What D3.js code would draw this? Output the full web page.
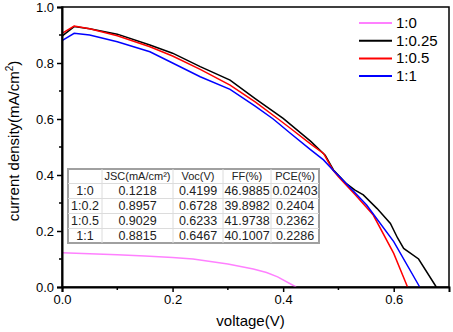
<!DOCTYPE html>
<html lang="en">

<head>
    <meta charset="UTF-8">
    <title>J-V curves</title>
    <style>
        body { margin: 0; background: white; }
        svg { display: block; font-family: Arial, "Liberation Sans", sans-serif; }
    </style>
</head>

<body>
    <script src="https://d3js.org/d3.v7.min.js"></script>
    <script>
        // series: [voltage, current density]
        const names = ["1:0", "1:0.25", "1:0.5", "1:1"];
        const colors = ["#ff80ff", "#000000", "#ff0000", "#0000ff"];

        const s10 = [[0, 0.122], [0.05, 0.119], [0.1, 0.115], [0.15, 0.111], [0.2, 0.105], [0.237, 0.1],
            [0.3, 0.082], [0.346, 0.064], [0.37, 0.052], [0.39, 0.036], [0.4235, 0]];
        const s1025 = [[0, 0.896], [0.022, 0.93], [0.05, 0.922], [0.1, 0.903], [0.159, 0.864], [0.2, 0.835],
            [0.25, 0.787], [0.304, 0.739], [0.35, 0.672], [0.4, 0.602], [0.45, 0.52], [0.476, 0.471],
            [0.491, 0.418], [0.515, 0.368], [0.53, 0.346], [0.545, 0.329], [0.57, 0.28], [0.594, 0.227],
            [0.607, 0.175], [0.618, 0.138], [0.645, 0.1], [0.677, 0]];
        const s105 = [[0, 0.906], [0.022, 0.932], [0.05, 0.922], [0.1, 0.897], [0.159, 0.858], [0.2, 0.825],
            [0.25, 0.777], [0.304, 0.721], [0.35, 0.66], [0.391, 0.6], [0.413, 0.567], [0.45, 0.51],
            [0.473, 0.477], [0.49, 0.418], [0.5, 0.394], [0.53, 0.33], [0.563, 0.257], [0.6, 0.12], [0.625, 0]];
        const s11 = [[0, 0.88], [0.022, 0.906], [0.05, 0.9], [0.1, 0.876], [0.159, 0.84], [0.2, 0.8],
            [0.25, 0.751], [0.304, 0.706], [0.35, 0.645], [0.382, 0.6], [0.413, 0.549], [0.45, 0.49],
            [0.473, 0.454], [0.49, 0.418], [0.5, 0.398], [0.551, 0.293], [0.6, 0.162], [0.647, 0]];
        const series = [s10, s1025, s105, s11];

        // summary table
        const tableHead = ["", "JSC(mA/cm\u00b2)", "Voc(V)", "FF(%)", "PCE(%)"];
        const tableRows = [
            ["1:0", "0.1218", "0.4199", "46.9885", "0.02403"],
            ["1:0.2", "0.8957", "0.6728", "39.8982", "0.2404"],
            ["1:0.5", "0.9029", "0.6233", "41.9738", "0.2362"],
            ["1:1", "0.8815", "0.6467", "40.1007", "0.2286"]
        ];

        const xTicks = [0, 0.2, 0.4, 0.6];
        const yTicks = [0, 0.2, 0.4, 0.6, 0.8, 1.0];

        const width = 453, height = 332;
        const margin = { left: 62, right: 4, top: 7, bottom: 45 };

        const svg = d3.select("body").append("svg")
            .attr("width", width)
            .attr("height", height);

        const x = d3.scaleLinear().domain([0, 0.7]).range([margin.left, width - margin.right]);
        const y = d3.scaleLinear().domain([0, 1]).range([height - margin.bottom, margin.top]);

        // frame
        svg.append("rect")
            .attr("x", x(0)).attr("y", y(1))
            .attr("width", x(0.7) - x(0)).attr("height", y(0) - y(1))
            .attr("fill", "none").attr("stroke", "#000").attr("stroke-width", 1.5);

        // curves
        const line = d3.line().x(d => x(d[0])).y(d => y(d[1]));
        svg.selectAll(".curve")
            .data(series)
            .enter().append("path")
            .attr("class", "curve")
            .attr("d", line)
            .attr("fill", "none")
            .attr("stroke", (d, i) => colors[i])
            .attr("stroke-width", 1.5);

        // axes
        const xAxis = d3.axisBottom(x).tickValues(xTicks).tickFormat(d3.format(".1f")).tickSize(5).tickPadding(3);
        const yAxis = d3.axisLeft(y).tickValues(yTicks).tickFormat(d3.format(".1f")).tickSize(5).tickPadding(3);

        const gx = svg.append("g").attr("transform", `translate(0,${y(0)})`).call(xAxis);
        const gy = svg.append("g").attr("transform", `translate(${x(0)},0)`).call(yAxis);
        [gx, gy].forEach(g => {
            g.select(".domain").attr("stroke-width", 2);
            g.selectAll(".tick line").attr("stroke-width", 1.5);
            g.selectAll("text").attr("font-size", 13).attr("font-family", "Arial, 'Liberation Sans', sans-serif");
        });
        // minor ticks
        gx.selectAll(".minor").data(d3.range(0.1, 0.7, 0.2)).enter().append("line")
            .attr("x1", d => x(d)).attr("x2", d => x(d)).attr("y1", 0).attr("y2", 3)
            .attr("stroke", "#000").attr("stroke-width", 1.5);
        gy.selectAll(".minor").data(d3.range(0.1, 1, 0.2)).enter().append("line")
            .attr("y1", d => y(d)).attr("y2", d => y(d)).attr("x1", 0).attr("x2", -3)
            .attr("stroke", "#000").attr("stroke-width", 1.5);

        // axis titles
        svg.append("text")
            .attr("x", (x(0) + x(0.7)) / 2 - 5).attr("y", 326)
            .attr("text-anchor", "middle").attr("font-size", 15)
            .text("voltage(V)");
        const yl = svg.append("text")
            .attr("transform", `translate(19,141) rotate(-90)`)
            .attr("text-anchor", "middle").attr("font-size", 15);
        yl.append("tspan").text("current density(mA/cm");
        yl.append("tspan").attr("font-size", 10).attr("dy", -6).text("2");
        yl.append("tspan").attr("dy", 6).text(")");

        // legend
        const legend = svg.append("g").attr("transform", "translate(359,23)");
        names.forEach((n, i) => {
            const g = legend.append("g").attr("transform", `translate(0,${i * 17.7})`);
            g.append("line").attr("x1", 0).attr("x2", 33).attr("y1", 0).attr("y2", 0)
                .attr("stroke", colors[i]).attr("stroke-width", 2);
            g.append("text").attr("x", 37).attr("y", 5).attr("font-size", 15).text(n);
        });

        // table
        const colEdges = [68, 102, 173, 223, 271, 319];
        const rowEdges = [169, 183.5, 198.5, 213.5, 228.5, 243];
        const tbl = svg.append("g");
        tbl.append("rect")
            .attr("x", colEdges[0]).attr("y", rowEdges[0])
            .attr("width", colEdges[5] - colEdges[0]).attr("height", rowEdges[5] - rowEdges[0])
            .attr("fill", "white").attr("stroke", "#a0a0a0").attr("stroke-width", 2);
        colEdges.slice(1, -1).forEach(cx => {
            tbl.append("line").attr("x1", cx).attr("x2", cx).attr("y1", rowEdges[0]).attr("y2", rowEdges[5])
                .attr("stroke", "#dcdcdc").attr("stroke-width", 1);
        });
        rowEdges.slice(1, -1).forEach(ry => {
            tbl.append("line").attr("x1", colEdges[0]).attr("x2", colEdges[5]).attr("y1", ry).attr("y2", ry)
                .attr("stroke", "#dcdcdc").attr("stroke-width", 1);
        });
        const allRows = [tableHead].concat(tableRows);
        allRows.forEach((row, r) => {
            row.forEach((cell, c) => {
                tbl.append("text")
                    .attr("x", (colEdges[c] + colEdges[c + 1]) / 2)
                    .attr("y", rowEdges[r + 1] - 3.5)
                    .attr("text-anchor", "middle")
                    .attr("font-size", r === 0 ? 11 : 12.5)
                    .attr("fill", "#222")
                    .text(cell);
            });
        });
    </script>
</body>

</html>
